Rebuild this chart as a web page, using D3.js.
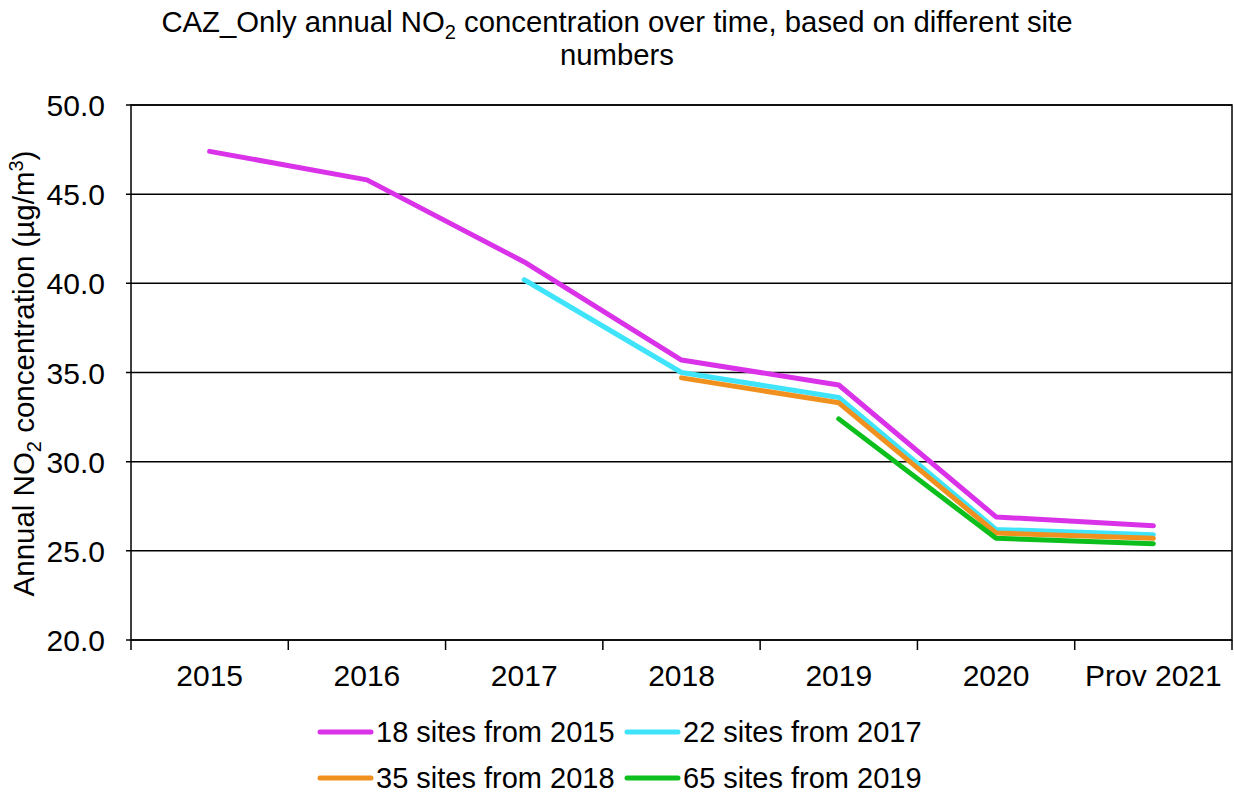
<!DOCTYPE html>
<html>
<head>
  <style>
    body{
      margin:0;
      background:#fff;
      font-family: "Liberation Sans", Arial, sans-serif;
    }
    .title{
      font-size:29.3px;
      fill:#000;
    }
    .tick-label{
      font-size:30px;
      fill:#000;
    }
    .legend-label{
      font-size:29px;
      fill:#000;
    }
  </style>
  <script src="https://d3js.org/d3.v7.min.js"></script>
</head>
<body>
<div class="chart"></div>
<script>
const years = ['2015','2016','2017','2018','2019','2020','Prov 2021'];
const yTicks = [20,25,30,35,40,45,50];

// null = no data for that year
const sites18 = [47.4, 45.8, 41.2, 35.7, 34.3, 26.9, 26.4];
const sites22 = [null, null, 40.2, 35.0, 33.6, 26.2, 25.9];
const sites35 = [null, null, null, 34.7, 33.3, 26.0, 25.7];
const sites65 = [null, null, null, null, 32.4, 25.7, 25.4];

const seriesNames = ['18 sites from 2015','22 sites from 2017','35 sites from 2018','65 sites from 2019'];
const seriesColors = ['#d932e8','#40e4fa','#f0901e','#0cbf1c'];

const series = [sites18, sites22, sites35, sites65].map((vals,i)=>({
  name: seriesNames[i],
  color: seriesColors[i],
  values: vals.map((v,j)=>({year: years[j], value: v}))
}));

const width = 1234, height = 793;
const margin = {left:131, right:2, top:105, bottom:153};

const svg = d3.select('.chart').append('svg')
  .attr('width', width)
  .attr('height', height);

const x = d3.scaleBand()
  .domain(years)
  .range([margin.left, width - margin.right]);

const y = d3.scaleLinear()
  .domain([20,50])
  .range([height - margin.bottom, margin.top]);

// title
const title = svg.append('text')
  .attr('class','title')
  .attr('text-anchor','middle');
const t1 = title.append('tspan').attr('x',617).attr('y',32);
t1.append('tspan').text('CAZ_Only annual NO');
t1.append('tspan').attr('font-size','20px').attr('dy',7).text('2');
t1.append('tspan').attr('dy',-7).text(' concentration over time, based on different site');
title.append('tspan').attr('x',617).attr('y',65).text('numbers');

// gridlines
svg.append('g')
  .selectAll('line')
  .data(yTicks)
  .join('line')
  .attr('x1', margin.left - 5)
  .attr('x2', width - margin.right)
  .attr('y1', d=>y(d))
  .attr('y2', d=>y(d))
  .attr('stroke','#000')
  .attr('stroke-width',1.5);

// y labels
svg.append('g')
  .selectAll('text')
  .data(yTicks)
  .join('text')
  .attr('class','tick-label')
  .attr('x', 105)
  .attr('y', d=>y(d) + 11)
  .attr('text-anchor','end')
  .text(d=>d.toFixed(1));

// plot border
svg.append('rect')
  .attr('x', margin.left)
  .attr('y', margin.top)
  .attr('width', width - margin.right - margin.left)
  .attr('height', height - margin.bottom - margin.top)
  .attr('fill','none')
  .attr('stroke','#000')
  .attr('stroke-width',1.5);

// x ticks on band edges
const edges = years.map(d=>x(d)).concat([x.range()[1]]);
svg.append('g')
  .selectAll('line')
  .data(edges)
  .join('line')
  .attr('x1', d=>d).attr('x2', d=>d)
  .attr('y1', y(20)).attr('y2', y(20) + 10)
  .attr('stroke','#000')
  .attr('stroke-width',1.5);

svg.append('g')
  .selectAll('text')
  .data(years)
  .join('text')
  .attr('class','tick-label')
  .attr('x', d=>x(d) + x.bandwidth()/2)
  .attr('y', 686)
  .attr('text-anchor','middle')
  .text(d=>d);

// y axis title
const yt = svg.append('text')
  .attr('class','tick-label')
  .style('font-size','29.5px')
  .attr('transform','translate(34,' + ((y(20)+y(50))/2 + 1) + ') rotate(-90)')
  .attr('text-anchor','middle');
yt.append('tspan').text('Annual NO');
yt.append('tspan').style('font-size','20px').attr('dy',7).text('2');
yt.append('tspan').attr('dy',-7).text(' concentration (µg/m');
yt.append('tspan').style('font-size','20px').attr('dy',-11).text('3');
yt.append('tspan').attr('dy',11).text(')');

// lines
const line = d3.line()
  .defined(d=>d.value !== null)
  .x(d=>x(d.year) + x.bandwidth()/2)
  .y(d=>y(d.value));

svg.append('g')
  .selectAll('path')
  .data(series)
  .join('path')
  .attr('d', d=>line(d.values))
  .attr('fill','none')
  .attr('stroke', d=>d.color)
  .attr('stroke-width',5)
  .attr('stroke-linecap','round')
  .attr('stroke-linejoin','round');

// legend
const legendPos = [[318,732],[625,732],[318,778],[625,778]];
const lg = svg.append('g')
  .selectAll('g')
  .data(series)
  .join('g')
  .attr('transform',(d,i)=>`translate(${legendPos[i][0]},${legendPos[i][1]})`);
lg.append('line')
  .attr('x1',2).attr('x2',53)
  .attr('y1',0).attr('y2',0)
  .attr('stroke', d=>d.color)
  .attr('stroke-width',5)
  .attr('stroke-linecap','round');
lg.append('text')
  .attr('class','legend-label')
  .attr('x',58)
  .attr('y',10)
  .text(d=>d.name);
</script>
</body>
</html>
